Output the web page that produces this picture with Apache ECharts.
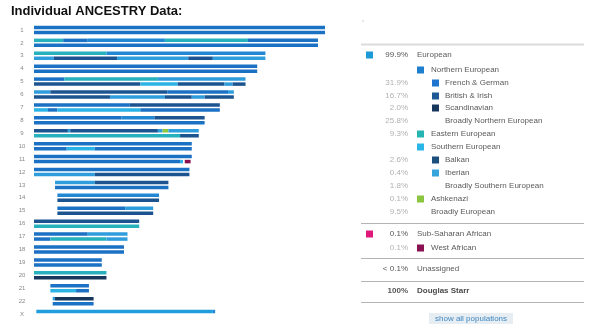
<!DOCTYPE html>
<html>
<head>
<meta charset="utf-8">
<title>Individual ANCESTRY Data</title>
<script src="https://cdn.jsdelivr.net/npm/echarts@6/dist/echarts.min.js"></script>
<style>
  html, body { margin: 0; padding: 0; background: #fff; }
  #chart { width: 593px; height: 331px; }
</style>
</head>
<body>
<div id="chart"></div>
<script>
// Chromosome names, top to bottom
const chromosomes = ['1','2','3','4','5','6','7','8','9','10','11','12','13','14','15','16','17','18','19','20','21','22','X'];

// Painted segments per chromosome copy, in Mb: [start, end, population code]
const strandA = [
  [[0,249,'fg']],
  [[0,25,'ee'],[25,46,'fg'],[46,112,'bn'],[112,183,'ee'],[183,243,'fg']],
  [[0,62,'ee'],[62,198,'bn']],
  [[0,191,'fg']],
  [[0,26,'fg'],[26,106,'ee'],[106,181,'ib']],
  [[0,14,'ib'],[14,114,'bi'],[114,166,'fg'],[166,171,'ib']],
  [[0,82,'fg'],[82,159,'bi']],
  [[0,75,'fg'],[75,103,'bn'],[103,146,'bi']],
  [[0,29,'bi'],[29,31,'ib'],[31,106,'bi'],[106,110,'ib'],[110,115,'ak'],[115,141,'ib']],
  [[0,135,'fg']],
  [[0,135,'fg']],
  [[0,133,'fg']],
  [[18,52,'ib'],[52,115,'bi']],
  [[20,107,'bn']],
  [[20,78,'fg'],[78,102,'ib']],
  [[0,90,'bi']],
  [[0,46,'fg'],[46,80,'ib']],
  [[0,77,'fg']],
  [[0,58,'fg']],
  [[0,62,'ee']],
  [[14,47,'fg']],
  [[16,18,'ib'],[18,51,'sc']],
  [[2,153,'be'],[153,155,'bn']]
];
const strandB = [
  [[0,249,'fg']],
  [[0,243,'fg']],
  [[0,17,'ib'],[17,71,'bi'],[71,132,'ib'],[132,153,'bi'],[153,198,'ib']],
  [[0,191,'fg']],
  [[0,91,'bi'],[91,123,'bs'],[123,163,'bi'],[163,170,'ib'],[170,181,'bi']],
  [[0,65,'bi'],[65,112,'ib'],[112,135,'bi'],[135,146,'ib'],[146,171,'bi']],
  [[0,12,'bs'],[12,20,'fg'],[20,91,'bs'],[91,159,'fg']],
  [[0,146,'fg']],
  [[0,125,'ee'],[125,141,'bi']],
  [[0,28,'fg'],[28,52,'bs'],[52,135,'fg']],
  [[0,125,'fg'],[125,127.5,'bs'],[129,134,'wa']],
  [[0,52,'ib'],[52,133,'bi']],
  [[18,115,'fg']],
  [[20,107,'bi']],
  [[20,102,'bi']],
  [[0,90,'ee']],
  [[0,14,'fg'],[14,62,'ee'],[62,80,'ib']],
  [[0,77,'fg']],
  [[0,58,'fg']],
  [[0,62,'sc']],
  [[14,36,'bs'],[36,47,'fg']],
  [[16,51,'fg']],
  []
];

// Population legend
const popNames  = ['European','Northern European','French & German','British & Irish','Scandinavian','Broadly Northern European','Eastern European','Southern European','Balkan','Iberian','Broadly Southern European','Ashkenazi','Broadly European','Sub-Saharan African','West African','Unassigned','Douglas Starr'];
const popShares = ['99.9%','','31.9%','16.7%','2.0%','25.8%','9.3%','','2.6%','0.4%','1.8%','0.1%','9.5%','0.1%','0.1%','< 0.1%','100%'];
const popLevels = [0,1,2,2,2,2,1,1,2,2,2,1,1,0,1,0,0];
const popSwatch = ['#1b9ad5','#1f7fcf','#1f74d0','#1d5a95','#16365b',null,'#27b5b3','#2ab6e6','#1d4f7e','#36a5dc',null,'#8cc540',null,'#e0187a','#8a1250',null,null];

// Segment colours by population code
const segColors = {
  fg: '#1b71c4', bn: '#2388d3', bi: '#1c5490', sc: '#17365c',
  ee: '#27b1bd', bs: '#2bb3e6', ib: '#2f9ddc', be: '#1f9ddd',
  ak: '#8dc63f', wa: '#8a1250'
};

const FONT = '"Liberation Sans", Arial, sans-serif';

// Flatten segments into custom-series items
const segItems = [];
[strandA, strandB].forEach(function (strand, s) {
  strand.forEach(function (segs, c) {
    segs.forEach(function (seg) {
      segItems.push({ value: [c, seg[0], seg[1], s], itemStyle: { color: segColors[seg[2]] } });
    });
  });
});

function renderSegment(params, api) {
  const c = api.value(0);
  const p0 = api.coord([api.value(1), c]);
  const p1 = api.coord([api.value(2), c]);
  const h = 3.5;
  const off = api.value(3) === 0 ? -2.5 : 2.5;
  return {
    type: 'rect',
    shape: { x: p0[0], y: p0[1] + off - h / 2, width: p1[0] - p0[0], height: h },
    style: { fill: api.visual('color') }
  };
}

// Legend panel drawn as graphic elements
const rowY = [55,70,83,96,108,121,134,147,160,173,186,199,212,234,248,269,291];
const pctRight = 408;
const swatchX = [366, 417, 432];
const textX = [417, 431, 445];
const panel = [];
const lineX1 = 361, lineX2 = 584;
panel.push({ type: 'circle', shape: { cx: 363, cy: 21, r: 0.8 }, style: { fill: '#c8c8c8' } });
panel.push({ type: 'line', shape: { x1: lineX1, y1: 44.5, x2: lineX2, y2: 44.5 }, style: { stroke: '#dcdcdc', lineWidth: 2 } });
[223.5, 258.5, 281.5, 302.5].forEach(function (y) {
  panel.push({ type: 'line', shape: { x1: lineX1, y1: y, x2: lineX2, y2: y }, style: { stroke: '#b4b4b4', lineWidth: 1 } });
});
popNames.forEach(function (name, i) {
  const lv = popLevels[i];
  const y = rowY[i];
  const bold = name === 'Douglas Starr';
  if (popShares[i]) {
    panel.push({ type: 'text', x: pctRight, y: y, style: {
      text: popShares[i], align: 'right', verticalAlign: 'middle',
      font: (bold ? 'bold ' : '') + '8px ' + FONT, fill: lv === 0 ? '#555555' : '#b0b0b0' } });
  }
  if (popSwatch[i]) {
    const sx = lv === 0 ? swatchX[0] : swatchX[lv];
    panel.push({ type: 'rect', shape: { x: sx, y: y - 3.5, width: 7, height: 7 }, style: { fill: popSwatch[i] } });
  }
  panel.push({ type: 'text', x: textX[lv], y: y, style: {
    text: name, align: 'left', verticalAlign: 'middle',
    font: (bold ? 'bold ' : '') + '8px ' + FONT, fill: bold ? '#4a4a4a' : '#5a5a5a' } });
});
panel.push({ type: 'rect', shape: { x: 429, y: 313, width: 84, height: 11 }, style: { fill: '#e6edf3' } });
panel.push({ type: 'text', x: 471, y: 318.5, style: {
  text: 'show all populations', align: 'center', verticalAlign: 'middle',
  font: '8px ' + FONT, fill: '#3f86bf' } });

const chart = echarts.init(document.getElementById('chart'), null, { renderer: 'canvas' });
chart.setOption({
  animation: false,
  backgroundColor: '#ffffff',
  title: {
    text: 'Individual ANCESTRY Data:',
    left: 6, top: 0,
    textStyle: { fontFamily: FONT, fontSize: 13, fontWeight: 'bold', color: '#111111' }
  },
  grid: { left: 34, top: 23.5, width: 291, height: 297 },
  xAxis: {
    type: 'value', min: 0, max: 249, show: false
  },
  yAxis: {
    type: 'category', data: chromosomes, inverse: true,
    axisLine: { show: false }, axisTick: { show: false }, splitLine: { show: false },
    axisLabel: { align: 'center', margin: 12, fontSize: 6, color: '#888888', fontFamily: FONT }
  },
  series: [{
    type: 'custom',
    renderItem: renderSegment,
    encode: { x: [1, 2], y: 0 },
    data: segItems
  }],
  graphic: panel
});
</script>
</body>
</html>
